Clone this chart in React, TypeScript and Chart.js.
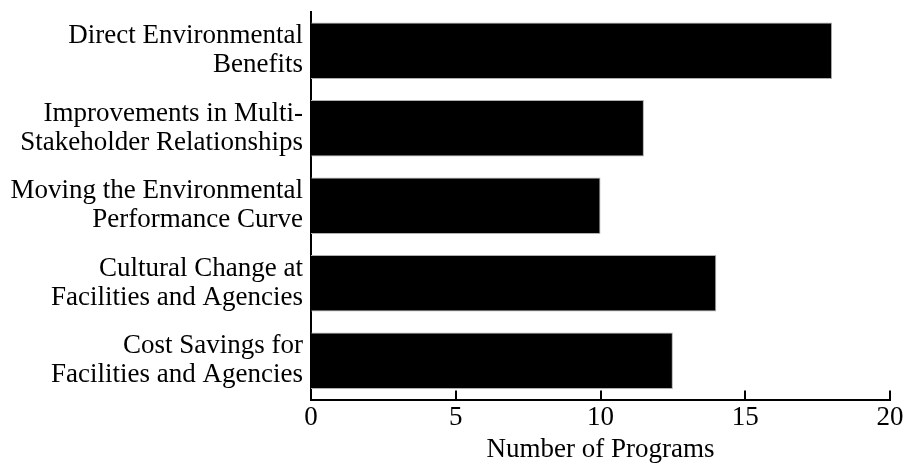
import React, { useEffect, useRef } from "react";
import { Chart, registerables } from "chart.js";

Chart.register(...registerables);

const categories: string[][] = [
  ["Direct Environmental", "Benefits"],
  ["Improvements in Multi-", "Stakeholder Relationships"],
  ["Moving the Environmental", "Performance Curve"],
  ["Cultural Change at", "Facilities and Agencies"],
  ["Cost Savings for", "Facilities and Agencies"],
];
const programCounts: number[] = [18, 11.5, 10, 14, 12.5];
const xTicks: number[] = [0, 5, 10, 15, 20];
const xTitle = "Number of Programs";

const FONT = "'Liberation Serif', 'Times New Roman', serif";

const innerTicks = {
  id: "innerTicks",
  afterDatasetsDraw(chart: any) {
    const x = chart.scales.x;
    const ctx = chart.ctx;
    const yBottom = chart.chartArea.bottom;
    ctx.save();
    ctx.strokeStyle = "#000";
    ctx.lineWidth = 2;
    for (const v of xTicks) {
      const px = Math.round(x.getPixelForValue(v));
      ctx.beginPath();
      ctx.moveTo(px, yBottom);
      ctx.lineTo(px, yBottom - 9);
      ctx.stroke();
    }
    ctx.restore();
  },
};

export default function App() {
  const ref = useRef<HTMLCanvasElement | null>(null);
  useEffect(() => {
    if (!ref.current) return;
    const chart = new Chart(ref.current, {
      type: "bar",
      data: {
        labels: categories,
        datasets: [
          {
            data: programCounts,
            backgroundColor: "#000",
            borderColor: "#b0b0b0",
            borderWidth: 1,
            barPercentage: 0.73,
            categoryPercentage: 1,
          },
        ],
      },
      options: {
        indexAxis: "y",
        animation: false,
        responsive: true,
        maintainAspectRatio: false,
        layout: { padding: { top: 12, right: 0, bottom: 0, left: 0 } },
        plugins: { legend: { display: false }, tooltip: { enabled: false } },
        scales: {
          x: {
            min: 0,
            max: 20,
            afterBuildTicks: (scale: any) => {
              scale.ticks = xTicks.map((v) => ({ value: v }));
            },
            afterFit: (scale: any) => {
              scale.paddingRight = 14;
            },
            grid: { display: false, drawTicks: false },
            border: { display: true, color: "#000", width: 2 },
            ticks: {
              color: "#000",
              padding: 2,
              maxRotation: 0,
              font: { family: FONT, size: 27, lineHeight: 1.2 },
            },
            title: {
              display: true,
              text: xTitle,
              color: "#000",
              padding: { top: 0, bottom: 0 },
              font: { family: FONT, size: 27, lineHeight: 1.04 },
            },
          },
          y: {
            grid: { display: false, drawTicks: false },
            border: { display: true, color: "#000", width: 2 },
            afterFit: (scale: any) => {
              scale.width = 311;
              scale.paddingTop = 0;
              scale.paddingBottom = 0;
            },
            ticks: {
              color: "#000",
              padding: 8,
              font: { family: FONT, size: 27, lineHeight: 1.07 },
            },
          },
        },
      },
      plugins: [innerTicks],
    });
    return () => chart.destroy();
  }, []);
  return (
    <div style={{ position: "absolute", left: 0, top: 0, width: 904, height: 464, background: "#fff" }}>
      <canvas ref={ref} />
    </div>
  );
}
